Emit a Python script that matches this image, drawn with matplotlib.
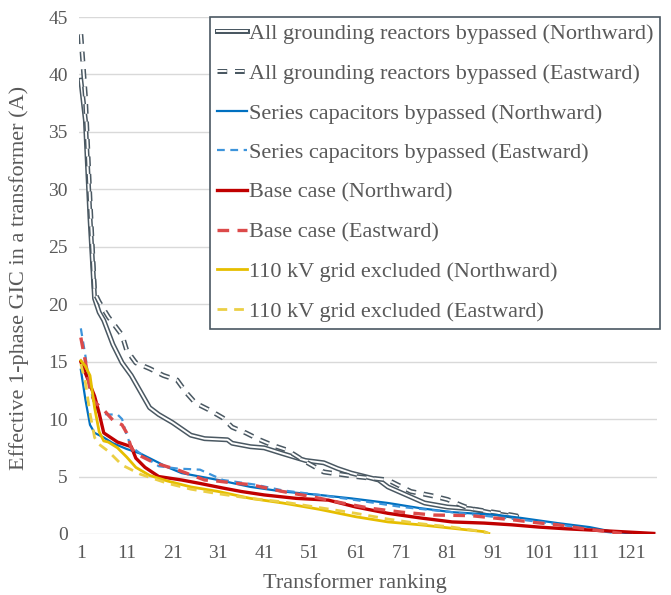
import matplotlib
matplotlib.use("Agg")
import matplotlib.pyplot as plt
import matplotlib.patheffects as pe

# transformer ranks / effective 1-phase GIC (A)
gray_n_rank = [1, 2, 3, 4, 5, 6, 8, 10, 12, 14, 16, 18, 21, 25, 28, 33, 34, 38, 41, 45, 50, 54, 57, 60, 66, 68, 72, 76, 81, 86, 91, 96]
gray_n = [39.5, 36.0, 27.5, 20.5, 19.3, 18.6, 16.5, 14.9, 13.8, 12.4, 11.0, 10.4, 9.7, 8.6, 8.3, 8.2, 7.9, 7.6, 7.5, 7.0, 6.4, 6.2, 5.7, 5.3, 4.7, 4.1, 3.4, 2.7, 2.35, 2.2, 1.8, 1.5]

gray_e_rank = [1, 2, 3, 4, 5, 7, 10, 11, 13, 16, 19, 22, 24, 26, 29, 32, 34, 37, 40, 43, 46, 50, 54, 61, 68, 73, 78, 81, 84, 86, 91, 95, 97]
gray_e = [43.5, 38.0, 29.0, 21.0, 20.2, 18.9, 17.3, 16.0, 14.9, 14.4, 13.8, 13.4, 12.3, 11.4, 10.8, 10.1, 9.3, 8.8, 8.2, 7.7, 7.3, 6.3, 5.4, 5.0, 4.7, 3.7, 3.3, 3.0, 2.5, 2.2, 1.9, 1.65, 1.5]

blue_n_rank = [1, 2, 3, 4, 6, 8, 11, 14, 17, 20, 23, 27, 31, 38, 45, 53, 60, 68, 75, 82, 92, 97, 105, 112, 117, 121]
blue_n = [14.3, 11.7, 9.5, 8.8, 8.4, 7.9, 7.4, 7.0, 6.4, 5.8, 5.3, 5.0, 4.7, 4.1, 3.7, 3.4, 3.1, 2.7, 2.25, 1.9, 1.65, 1.4, 0.95, 0.6, 0.2, 0.05]

blue_e_rank = [1, 2, 3, 4, 5, 7, 9, 10, 11, 12, 15, 18, 22, 27, 32, 39, 45, 53, 61, 71, 82, 91, 98, 105, 112, 118]
blue_e = [17.9, 15.5, 12.8, 11.2, 10.5, 10.4, 10.4, 10.0, 8.6, 7.6, 6.7, 5.9, 5.7, 5.6, 4.7, 4.3, 3.8, 3.4, 2.95, 2.35, 1.9, 1.5, 1.2, 0.85, 0.4, 0.05]

red_n_rank = [1, 2, 3, 4, 5, 6, 9, 12, 13, 15, 18, 23, 27, 32, 36, 41, 48, 55, 61, 68, 75, 82, 89, 95, 101, 107, 112, 119, 126]
red_n = [15.0, 14.0, 13.0, 12.0, 10.5, 8.8, 8.0, 7.6, 6.6, 5.8, 5.0, 4.7, 4.4, 4.0, 3.7, 3.4, 3.1, 2.95, 2.35, 1.8, 1.4, 1.05, 0.95, 0.8, 0.6, 0.45, 0.35, 0.2, 0.05]

red_e_rank = [1, 2, 3, 4, 6, 8, 10, 11, 12, 13, 17, 22, 28, 31, 34, 38, 45, 52, 58, 64, 71, 78, 86, 91, 96, 100, 105, 110, 115, 119]
red_e = [17.1, 15.0, 12.5, 11.5, 10.8, 9.9, 9.5, 8.8, 7.5, 7.0, 6.2, 5.6, 4.7, 4.6, 4.45, 4.3, 3.7, 3.2, 2.7, 2.25, 1.9, 1.65, 1.6, 1.4, 1.2, 1.0, 0.8, 0.5, 0.25, 0.05]

yel_n_rank = [1, 2, 3, 4, 5, 6, 7, 9, 11, 13, 16, 20, 25, 31, 38, 45, 53, 61, 68, 75, 82, 89, 90]
yel_n = [15.1, 14.6, 13.8, 11.0, 8.9, 8.1, 8.0, 7.5, 6.7, 5.8, 5.1, 4.6, 4.1, 3.7, 3.1, 2.7, 2.15, 1.5, 1.05, 0.8, 0.5, 0.2, 0.05]

yel_e_rank = [1, 2, 3, 4, 5, 7, 10, 14, 20, 25, 31, 38, 45, 53, 61, 68, 75, 82, 88, 90]
yel_e = [14.8, 13.2, 10.5, 8.4, 7.8, 7.2, 6.0, 5.2, 4.4, 3.9, 3.5, 3.1, 2.8, 2.3, 1.8, 1.3, 0.9, 0.6, 0.25, 0.05]

labels = ["All grounding reactors bypassed (Northward)",
          "All grounding reactors bypassed (Eastward)",
          "Series capacitors bypassed (Northward)",
          "Series capacitors bypassed (Eastward)",
          "Base case (Northward)",
          "Base case (Eastward)",
          "110 kV grid excluded (Northward)",
          "110 kV grid excluded (Eastward)"]

plt.rcParams['font.family'] = ['Liberation Serif', 'DejaVu Serif']
txt = '#595959'
slate = '#4a5862'

fig = plt.figure(figsize=(6.71, 5.95), dpi=100)
ax = fig.add_axes([79/671, 61/595, 578/671, 517/595])

double = [pe.Stroke(linewidth=3.6, foreground=slate), pe.Normal()]
ax.plot(gray_n_rank, gray_n, color='white', lw=1.4, path_effects=double, label=labels[0])
ax.plot(gray_e_rank, gray_e, color='white', lw=1.4, path_effects=double,
        dashes=(5, 4), label=labels[1])
ax.plot(blue_n_rank, blue_n, color='#0070C0', lw=1.6, label=labels[2])
ax.plot(blue_e_rank, blue_e, color='#3d94db', lw=1.6, dashes=(3.5, 2.5), label=labels[3])
ax.plot(red_n_rank, red_n, color='#C00000', lw=2.4, label=labels[4])
ax.plot(red_e_rank, red_e, color='#dc4a4a', lw=2.4, dashes=(3.5, 2.5), label=labels[5])
ax.plot(yel_n_rank, yel_n, color='#E6BE00', lw=2.0, label=labels[6])
ax.plot(yel_e_rank, yel_e, color='#ebcf45', lw=2.0, dashes=(3.5, 2.5), label=labels[7])

ax.set_xlim(0.6, 126.7)
ax.set_ylim(0, 45)
ax.set_yticks(range(0, 46, 5))
ax.set_xticks(range(1, 122, 10))
ax.grid(axis='y', color='#d9d9d9', lw=1.0)
ax.set_axisbelow(True)
for s in ax.spines.values():
    s.set_visible(False)
ax.tick_params(length=0, labelsize=14, colors=txt, pad=8)
ax.set_xlabel("Transformer ranking", fontsize=16, color=txt)
ax.set_ylabel("Effective 1-phase GIC in a transformer (A)", fontsize=16, color=txt)
ax.xaxis.set_label_coords(0.4775, -0.075)
ax.yaxis.set_label_coords(-0.086, 0.496)

leg = ax.legend(loc='upper left', bbox_to_anchor=(210/671, 1 - 17/595),
                bbox_transform=fig.transFigure, fontsize=16, frameon=True,
                fancybox=False, framealpha=1, borderpad=0.3, labelspacing=0.86,
                handlelength=1.35, handletextpad=0.1, borderaxespad=0)
leg.get_frame().set_edgecolor(slate)
leg.get_frame().set_linewidth(1.2)
for t in leg.get_texts():
    t.set_color(txt)

fig.savefig("out.png", dpi=100)
